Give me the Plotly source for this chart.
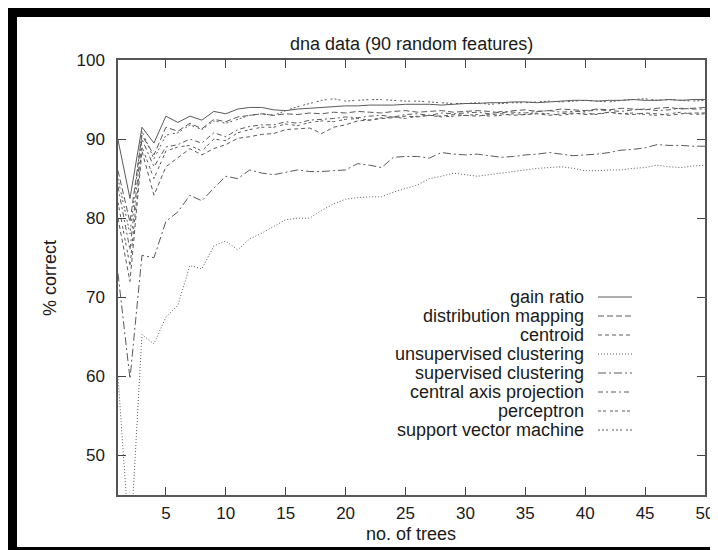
import plotly.graph_objects as go

trees = list(range(1, 51))

gain_ratio = [89.9, 82.5, 91.5, 89.5, 92.9, 92.1, 92.9, 92.4, 93.5, 93.2, 93.8, 94.0, 94.0, 93.7, 93.6, 93.8, 93.9, 94.0, 94.1, 94.2,
              94.2, 94.3, 94.3, 94.3, 94.4, 94.4, 94.4, 94.3, 94.4, 94.5, 94.5, 94.6, 94.6, 94.7, 94.7, 94.6, 94.7, 94.8, 94.9, 94.9,
              94.8, 94.9, 94.9, 95.0, 94.9, 94.9, 95.0, 94.9, 95.0, 95.0]
distribution_mapping = [86.0, 79.5, 90.5, 88.0, 91.5, 91.0, 92.0, 91.3, 92.5, 92.2, 92.8, 93.0, 93.2, 93.0, 93.2, 93.1, 93.3, 93.2, 93.4, 93.3,
                        93.5, 93.4, 93.3, 93.5, 93.6, 93.4, 93.5, 93.6, 93.4, 93.5, 93.6, 93.5, 93.3, 93.6, 93.7, 93.5, 93.6, 93.8, 93.7, 93.6,
                        93.8, 93.7, 93.9, 93.8, 93.7, 93.9, 94.0, 93.8, 93.9, 94.0]
centroid = [80.0, 72.0, 88.5, 82.9, 86.5, 87.6, 88.8, 88.0, 88.8, 89.3, 90.1, 90.3, 90.6, 90.7, 91.2, 91.3, 91.4, 90.7, 91.5, 91.8,
            92.3, 92.4, 92.6, 92.7, 92.9, 92.8, 93.0, 92.9, 93.1, 93.0, 92.9, 93.1, 93.2, 93.0, 93.1, 93.2, 93.0, 93.2, 93.3, 93.1,
            93.2, 93.4, 93.2, 93.1, 93.3, 93.2, 93.0, 93.2, 93.3, 93.3]
unsupervised_clustering = [60.0, 38.0, 65.3, 64.1, 67.5, 69.0, 74.0, 73.6, 76.5, 77.1, 76.0, 77.4, 78.1, 78.9, 79.8, 80.0, 80.0, 81.0, 81.8, 82.4,
                           82.6, 82.7, 82.7, 83.3, 83.8, 84.2, 85.0, 85.3, 85.7, 85.5, 85.3, 85.5, 85.7, 85.9, 86.1, 86.3, 86.4, 86.5, 86.3, 86.0,
                           86.0, 86.1, 86.1, 86.3, 86.4, 86.7, 86.5, 86.4, 86.6, 86.7]
supervised_clustering = [73.0, 59.7, 75.3, 75.0, 79.6, 80.8, 82.9, 82.2, 83.8, 85.3, 85.0, 86.1, 85.7, 85.5, 85.8, 86.1, 85.9, 85.9, 86.0, 86.1,
                         86.9, 86.7, 86.4, 87.7, 87.8, 87.8, 87.6, 88.3, 88.1, 88.0, 88.1, 87.9, 87.7, 87.8, 88.0, 88.1, 88.3, 88.1, 87.9, 88.0,
                         88.1, 88.3, 88.6, 88.7, 88.9, 89.3, 89.2, 89.2, 89.1, 89.1]
central_axis_projection = [84.0, 76.0, 90.0, 86.5, 89.0, 89.3, 90.0, 89.5, 90.8, 90.3, 91.2, 91.6, 91.8, 91.8, 92.2, 92.0, 92.4, 92.5, 92.6, 92.8,
                           92.7, 92.9, 93.0, 92.8, 93.1, 93.2, 93.0, 93.3, 93.2, 93.3, 93.4, 93.2, 93.5, 93.4, 93.3, 93.5, 93.6, 93.4, 93.5, 93.5,
                           93.7, 93.6, 93.5, 93.7, 93.8, 93.6, 93.7, 93.9, 93.8, 93.8]
perceptron = [82.0, 74.0, 89.0, 85.0, 88.5, 89.0, 89.2, 88.5, 90.0, 89.8, 90.8, 91.2, 91.5, 91.5, 91.9, 91.7, 92.1, 92.3, 92.2, 92.5,
              92.6, 92.4, 92.7, 92.8, 92.6, 92.9, 93.0, 92.8, 92.9, 93.0, 93.1, 92.9, 93.0, 93.2, 93.1, 93.3, 93.2, 93.0, 93.2, 93.3,
              93.1, 93.4, 93.2, 93.3, 93.1, 93.0, 93.2, 93.4, 93.1, 93.2]
support_vector_machine = [85.0, 78.0, 91.0, 87.5, 90.5, 90.8, 91.8, 91.2, 92.3, 92.0, 92.5, 93.0, 93.2, 93.0, 93.6, 94.1, 94.5, 94.9, 95.1, 94.8,
                          94.9, 95.0, 95.0, 94.9, 94.8, 94.8, 94.7, 94.6, 94.5, 94.5, 94.6, 94.4, 94.5, 94.6, 94.6, 94.7, 94.8, 94.7, 94.8, 94.9,
                          94.8, 94.7, 94.9, 95.0, 95.1, 94.9, 95.0, 94.9, 94.8, 94.9]

series_names = ["gain ratio", "distribution mapping", "centroid", "unsupervised clustering",
                "supervised clustering", "central axis projection", "perceptron", "support vector machine"]
series_values = [gain_ratio, distribution_mapping, centroid, unsupervised_clustering,
                 supervised_clustering, central_axis_projection, perceptron, support_vector_machine]
dashes = ["solid", "6px,3px", "4px,3px", "1px,2px", "8px,3px,2px,3px", "5px,3px,2px,3px", "3px,2px,3px,4px", "2px,2px,2px,2px,2px,4px"]

x_ticks = [5, 10, 15, 20, 25, 30, 35, 40, 45, 50]
y_ticks = [50, 60, 70, 80, 90, 100]

LINE = "#5a5a5a"
TEXT = "#1a1a1a"
FONT = "Liberation Sans, Arial, sans-serif"

fig = go.Figure()
for name, vals, d in zip(series_names, series_values, dashes):
    fig.add_trace(go.Scatter(x=trees, y=vals, mode="lines", name=name,
                             line=dict(color=LINE, width=1, dash=d), showlegend=False))

# plot area in pixels: left 110, right 697, top 52, bottom 487
L, R, T, B = 110, 697, 52, 487
W, H = R - L, B - T
def px(p):
    return (p - L) / W
def py(p):
    return (B - p) / H

shapes = [dict(type="rect", xref="paper", yref="paper", x0=px(9), x1=px(713), y0=py(9), y1=py(539),
               fillcolor="white", line=dict(width=0), layer="below")]
annotations = []
for i, (name, d) in enumerate(zip(series_names, dashes)):
    yy = py(289 + 19 * i)
    annotations.append(dict(text=name, x=px(578), y=yy, xref="paper", yref="paper", xanchor="right",
                            yanchor="middle", showarrow=False, font=dict(size=18, color=TEXT, family=FONT)))
    shapes.append(dict(type="line", xref="paper", yref="paper", x0=px(590), x1=px(624), y0=yy, y1=yy,
                       line=dict(color=LINE, width=1, dash=d)))

annotations.append(dict(text="dna data (90 random features)", x=px(403), y=py(36), xref="paper", yref="paper",
                        xanchor="center", yanchor="middle", showarrow=False, font=dict(size=18, color=TEXT, family=FONT)))
annotations.append(dict(text="no. of trees", x=px(403), y=py(526), xref="paper", yref="paper",
                        xanchor="center", yanchor="middle", showarrow=False, font=dict(size=18, color=TEXT, family=FONT)))
annotations.append(dict(text="% correct", x=px(42), y=py(270), xref="paper", yref="paper", textangle=-90,
                        xanchor="center", yanchor="middle", showarrow=False, font=dict(size=18, color=TEXT, family=FONT)))

fig.update_layout(
    width=718, height=550,
    margin=dict(l=L, r=718 - R, t=T, b=550 - B),
    paper_bgcolor="black", plot_bgcolor="white",
    shapes=shapes, annotations=annotations,
    font=dict(family=FONT, size=18, color=TEXT),
    showlegend=False,
)
fig.update_xaxes(range=[1, 50], tickvals=x_ticks, ticks="inside", ticklen=8, tickcolor="#444", tickwidth=1,
                 showline=True, linecolor="#555", linewidth=1.5, mirror="ticks", showgrid=False, zeroline=False,
                 tickfont=dict(size=17, family=FONT, color=TEXT), ticklabelstandoff=2)
fig.update_yaxes(range=[45, 100], tickvals=y_ticks, ticks="inside", ticklen=8, tickcolor="#444", tickwidth=1,
                 showline=True, linecolor="#555", linewidth=1.5, mirror="ticks", showgrid=False, zeroline=False,
                 tickfont=dict(size=17, family=FONT, color=TEXT), ticklabelstandoff=8)

fig.write_html("out.html")
